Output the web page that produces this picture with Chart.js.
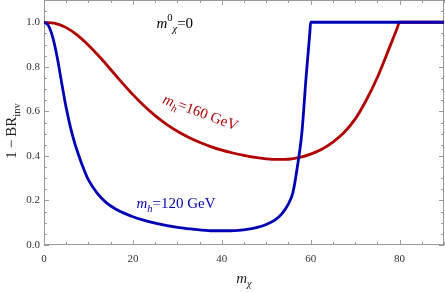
<!DOCTYPE html>
<html>
<head>
<meta charset="utf-8">
<script src="https://cdn.jsdelivr.net/npm/chart.js@4"></script>
<style>
  html, body { margin: 0; padding: 0; background: #fff; }
</style>
</head>
<body>
<canvas id="brChart" width="445" height="292"></canvas>
<script>
// m_h = 120 GeV curve
const blueX = [0, 1, 2, 3, 4, 5, 6, 7, 8, 9, 10, 12, 14, 16, 18, 20, 22, 25, 30, 35, 38, 42, 46, 48, 50, 52, 53.5, 55, 56, 57, 58, 59, 59.8, 60, 90];
const blueY = [1.0, 0.985, 0.93, 0.84, 0.725, 0.615, 0.525, 0.452, 0.392, 0.338, 0.292, 0.232, 0.19, 0.163, 0.143, 0.127, 0.114, 0.098, 0.079, 0.068, 0.064, 0.064, 0.071, 0.079, 0.092, 0.113, 0.14, 0.185, 0.235, 0.35, 0.50, 0.76, 0.95, 1.0, 1.0];

// m_h = 160 GeV curve
const redX = [0, 2.5, 5, 7.5, 10, 12.5, 15, 17.5, 20, 22.5, 25, 27.5, 30, 32.5, 35, 37.5, 40, 42.5, 45, 47.5, 50, 52.5, 55, 57.5, 60, 62.5, 65, 67.5, 70, 72.5, 75, 77.5, 79.4, 80, 90];
const redY = [1.0, 0.995, 0.976, 0.942, 0.897, 0.845, 0.788, 0.730, 0.675, 0.625, 0.581, 0.543, 0.511, 0.484, 0.461, 0.442, 0.426, 0.413, 0.402, 0.393, 0.387, 0.384, 0.385, 0.393, 0.408, 0.430, 0.462, 0.505, 0.565, 0.650, 0.752, 0.875, 0.97, 1.0, 1.0];

const xTicks = [0, 20, 40, 60, 80];
const yTicks = [0, 0.2, 0.4, 0.6, 0.8, 1.0];
const xMax = 90, yMax = 1.1;

const SERIF = "'Liberation Serif', 'DejaVu Serif', serif";
const RED = '#b00000';
const BLUE = '#0000b4';
const FRAME = '#9a9a9a';

// text pieces: [text, italic, shift]  shift -1 = subscript, 1 = superscript
function drawRich(ctx, pieces, x, y, size, color) {
  ctx.fillStyle = color;
  ctx.textBaseline = 'alphabetic';
  ctx.textAlign = 'left';
  let cx = x;
  pieces.forEach(([txt, italic, shift]) => {
    const sz = shift ? size * 0.7 : size;
    ctx.font = `${italic ? 'italic ' : ''}${sz}px ${SERIF}`;
    const dy = shift === -1 ? size * 0.28 : shift === 1 ? -size * 0.42 : 0;
    ctx.fillText(txt, cx, y + dy);
    cx += ctx.measureText(txt).width;
  });
  return cx - x;
}

function richWidth(ctx, pieces, size) {
  let w = 0;
  pieces.forEach(([txt, italic, shift]) => {
    const sz = shift ? size * 0.7 : size;
    ctx.font = `${italic ? 'italic ' : ''}${sz}px ${SERIF}`;
    w += ctx.measureText(txt).width;
  });
  return w;
}

// frame with inward ticks on all four sides
const framePlugin = {
  id: 'frame',
  beforeDatasetsDraw(chart) {
    const { ctx, chartArea: a, scales: { x, y } } = chart;
    ctx.save();
    ctx.strokeStyle = FRAME;
    ctx.lineWidth = 1;
    ctx.strokeRect(Math.round(a.left) + 0.5, Math.round(a.top) + 0.5,
      Math.round(a.right - a.left) - 1, Math.round(a.bottom - a.top) - 1);
    ctx.beginPath();
    for (let i = 0; i <= 18; i++) {
      const px = Math.round(x.getPixelForValue(i * 5)) + 0.5;
      const len = i % 4 === 0 ? 5 : 3;
      ctx.moveTo(px, a.bottom); ctx.lineTo(px, a.bottom - len);
      ctx.moveTo(px, a.top); ctx.lineTo(px, a.top + len);
    }
    for (let i = 0; i <= 22; i++) {
      const py = Math.round(y.getPixelForValue(i * 0.05)) + 0.5;
      const len = i % 4 === 0 ? 5 : 3;
      ctx.moveTo(a.left, py); ctx.lineTo(a.left + len, py);
      ctx.moveTo(a.right, py); ctx.lineTo(a.right - len, py);
    }
    ctx.stroke();
    ctx.restore();
  },
  afterDraw(chart) {
    const { ctx, chartArea: a, scales: { x, y } } = chart;
    ctx.save();
    // m0_chi = 0
    drawRich(ctx, [['m', true], ['0', false, 1], ['\u03C7', true, -1], ['=0', false]],
      x.getPixelForValue(25.3), y.getPixelForValue(0.976), 15, '#000');

    // m_h = 120 GeV
    drawRich(ctx, [['m', true], ['h', true, -1], ['=120 GeV', false]],
      x.getPixelForValue(20.8), y.getPixelForValue(0.166), 15, BLUE);

    // m_h = 160 GeV, tilted
    ctx.save();
    ctx.translate(x.getPixelForValue(26.5), y.getPixelForValue(0.638));
    ctx.rotate(20.5 * Math.PI / 180);
    drawRich(ctx, [['m', true], ['h', true, -1], ['=160 GeV', false]], 0, 0, 15, RED);
    ctx.restore();

    // x axis title
    const xt = [['m', true], ['\u03C7', true, -1]];
    const xw = richWidth(ctx, xt, 15);
    drawRich(ctx, xt, (a.left + a.right) / 2 - xw / 2, 283, 15, '#222');

    // y axis title
    const yt = [['1\u2009\u2212\u2009BR', false], ['inv', false, -1]];
    const yw = richWidth(ctx, yt, 15);
    ctx.save();
    ctx.translate(16, 131);
    ctx.rotate(-Math.PI / 2);
    drawRich(ctx, yt, -yw / 2, 0, 15, '#222');
    ctx.restore();
    ctx.restore();
  }
};

new Chart(document.getElementById('brChart'), {
  type: 'line',
  data: {
    datasets: [
      {
        label: 'm_h=120 GeV',
        data: blueX.map((v, i) => ({ x: v, y: blueY[i] })),
        borderColor: BLUE,
        borderWidth: 2.8,
        pointRadius: 0,
        cubicInterpolationMode: 'monotone',
        fill: false
      },
      {
        label: 'm_h=160 GeV',
        data: redX.map((v, i) => ({ x: v, y: redY[i] })),
        borderColor: RED,
        borderWidth: 2.8,
        pointRadius: 0,
        cubicInterpolationMode: 'monotone',
        fill: false
      }
    ]
  },
  options: {
    responsive: false,
    animation: false,
    devicePixelRatio: 1,
    layout: { padding: { top: 0, right: 1, left: 0, bottom: 0 } },
    plugins: { legend: { display: false }, tooltip: { enabled: false } },
    scales: {
      x: {
        type: 'linear',
        min: 0,
        max: xMax,
        afterBuildTicks: s => { s.ticks = xTicks.map(v => ({ value: v })); },
        afterFit: s => { s.height = 47; s.paddingLeft = 0; s.paddingRight = 0; },
        grid: { display: false, drawTicks: false },
        border: { display: false },
        ticks: {
          font: { family: SERIF, size: 11 },
          color: '#333',
          padding: 8,
          maxRotation: 0,
          callback: v => String(v)
        }
      },
      y: {
        type: 'linear',
        min: 0,
        max: yMax,
        afterBuildTicks: s => { s.ticks = yTicks.map(v => ({ value: v })); },
        afterFit: s => { s.width = 44; s.paddingTop = 0; s.paddingBottom = 0; },
        grid: { display: false, drawTicks: false },
        border: { display: false },
        ticks: {
          font: { family: SERIF, size: 11 },
          color: '#333',
          padding: 4,
          callback: v => v.toFixed(1)
        }
      }
    }
  },
  plugins: [framePlugin]
});
</script>
</body>
</html>
